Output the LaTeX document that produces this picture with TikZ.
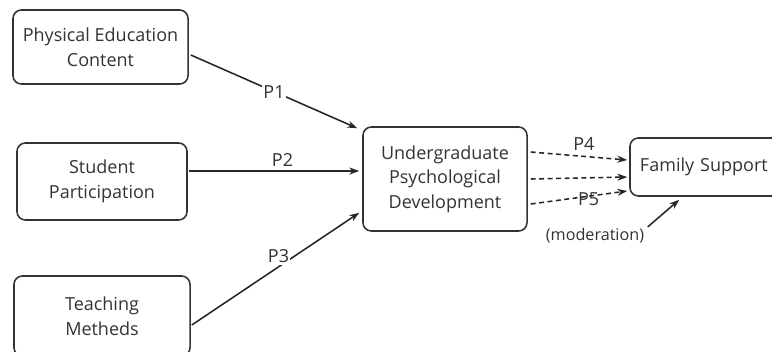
\documentclass[tikz,border=0pt]{standalone}
\usepackage{fontspec}
\setmainfont{Open Sans}
\usetikzlibrary{calc,arrows.meta}
\begin{document}
\begin{tikzpicture}[x=0.025cm,y=-0.025cm,
	box/.style={draw=black!80, line width=1.1pt, rounded corners=6pt, align=center, text=black!80, inner sep=0pt, font=\fontsize{12.8}{17.5}\selectfont},
	link/.style={line width=1.1pt, draw=black!85, -{Stealth[length=7pt,width=5pt]}},
	dlink/.style={link, dash pattern=on 3.5pt off 2.5pt},
	lbl/.style={text=black!80, inner sep=1pt, font=\fontsize{12.8}{14}\selectfont}]
			%Frame
			\useasboundingbox (0,0) rectangle (772,351);
			\clip (0,0) rectangle (772,351);
			%Boxes
			\node[box, minimum width=4.375cm, minimum height=1.85cm] (pec) at (100.5,47) {Physical Education\\Content};
			\node[box, minimum width=4.25cm, minimum height=1.925cm] (sp) at (102,181.5) {Student\\Participation};
			\node[box, minimum width=4.4cm, minimum height=2cm] (tm) at (102,316) {Teaching\\Metheds};
			\node[box, minimum width=4.1cm, minimum height=2.6cm] (ugd) at (445,179) {Undergraduate\\Psychological\\Development};
			\node[box, minimum width=4.1cm, minimum height=1.45cm, text width=3.6cm, align=left] (fs) at (712,167) {Family Support};
			\node[lbl, font=\fontsize{11.5}{13}\selectfont] (mod) at (595,236) {(moderation)};
			%Paths
			\draw[link] ($(pec.east)+(2,8)$) -- node[lbl, fill=white, pos=0.5] {P1} ($(ugd.north west)+(-5,2)$);
			\draw[link] ($(sp.east)+(1,-10.5)$) -- node[lbl, above=2pt, pos=0.55] {P2} ($(ugd.west)+(-3,-8)$);
			\draw[link] ($(tm.east)+(1,9)$) -- node[lbl, fill=white, pos=0.56, xshift=-5pt, yshift=4pt] {P3} ($(ugd.south west)+(-3,-19)$);
			%Dashed paths
			\draw[dlink] ($(ugd.east)+(3,-27)$) -- node[lbl, above=3pt, pos=0.55] {P4} ($(fs.west)+(-2,-7)$);
			\draw[dlink] ($(ugd.east)+(3,0)$) -- ($(fs.west)+(-2,10)$);
			\draw[dlink] ($(ugd.east)+(3,25)$) -- node[lbl, pos=0.6, yshift=-2pt] {P5} ($(fs.west)+(-2,24)$);
			\draw[link] ($(mod.north east)+(2,0)$) -- ($(fs.south west)+(50,3)$);
			\end{tikzpicture}
\end{document}
